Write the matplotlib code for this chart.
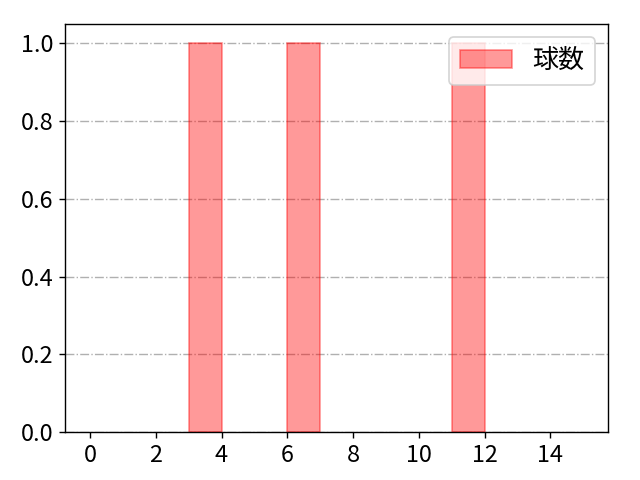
import matplotlib
matplotlib.use('Agg')
import matplotlib.pyplot as plt

plt.rcParams['font.family'] = ['Noto Sans CJK JP', 'DejaVu Sans']
plt.rcParams['font.size'] = 12

# 球数 values (one per game)
pitch_counts = [3, 6, 11]
bin_edges = list(range(0, 16))
legend_label = '球数'

fig, ax = plt.subplots(figsize=(5.12, 3.84), dpi=125)
n, bins, patches = ax.hist(pitch_counts, bins=bin_edges, color='red', alpha=0.4,
                           edgecolor='red', linewidth=1, label=legend_label)
ax.grid(axis='y', linestyle='-.', color='#b0b0b0')
ax.set_axisbelow(True)
ax.set_xticks(range(0, 16, 2))
ax.tick_params(labelsize=13.5)
ax.legend(loc='upper right', fontsize=15)

# empty bins would leave an edge line along the x axis
for p in patches:
    if p.get_height() == 0:
        p.set_linewidth(0)

fig.subplots_adjust(left=0.102, right=0.95, top=0.95, bottom=0.1)
fig.savefig('out.png')
